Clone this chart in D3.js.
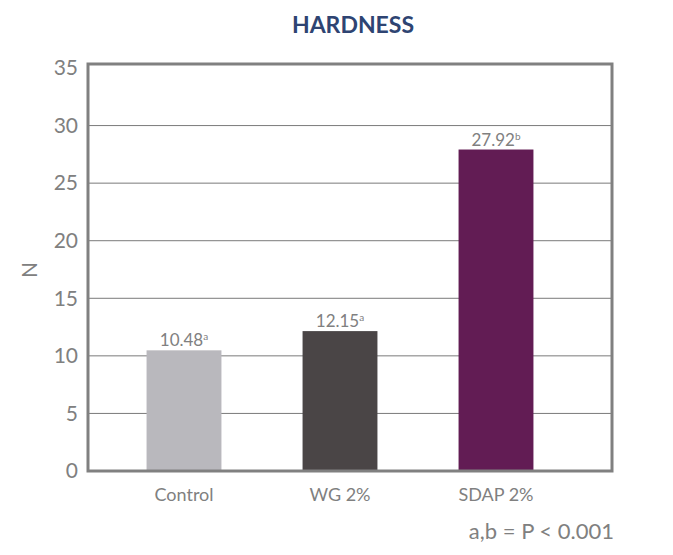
<!DOCTYPE html>
<html>
<head>
<meta charset="utf-8">
<script src="https://cdn.jsdelivr.net/npm/d3@7"></script>
<style>
  body { margin: 0; background: #fff; }
  text { font-family: Lato, 'Open Sans', sans-serif; }
</style>
</head>
<body>
<div id="chart"></div>
<script>
'use strict';

var categories = ['Control', 'WG 2%', 'SDAP 2%'];
var values = [10.48, 12.15, 27.92];
var letters = ['a', 'a', 'b'];
var colors = ['#b9b8bd', '#4a4546', '#621c54'];
var yTicks = [0, 5, 10, 15, 20, 25, 30, 35];

var w = 673, h = 555;
var plotLeft = 88, plotRight = 612, plotTop = 64, plotBottom = 471;
var grey = '#808080';

var svg = d3.select('#chart').append('svg')
  .attr('width', w)
  .attr('height', h);

var y = d3.scaleLinear().domain([0, 35]).range([plotBottom, plotTop + 4]);
var x = d3.scaleBand().domain(categories).range([106, 574])
  .paddingInner(0.52).paddingOuter(0.26);

// gridlines
svg.append('g').selectAll('line')
  .data(yTicks.filter(function (d) { return d > 0 && d < 35; }))
  .enter().append('line')
  .attr('x1', plotLeft).attr('x2', plotRight)
  .attr('y1', function (d) { return y(d); })
  .attr('y2', function (d) { return y(d); })
  .attr('stroke', '#7a7a7a')
  .attr('stroke-width', 1);

// bars
svg.append('g').selectAll('rect')
  .data(values)
  .enter().append('rect')
  .attr('x', function (d, i) { return x(categories[i]); })
  .attr('y', function (d) { return y(d); })
  .attr('width', x.bandwidth())
  .attr('height', function (d) { return y(0) - y(d); })
  .attr('fill', function (d, i) { return colors[i]; });

// value labels
var lbl = svg.append('g').selectAll('text')
  .data(values)
  .enter().append('text')
  .attr('x', function (d, i) { return x(categories[i]) + x.bandwidth() / 2; })
  .attr('y', function (d) { return y(d) - 4; })
  .attr('text-anchor', 'middle')
  .attr('font-size', 17)
  .attr('fill', grey);
lbl.append('tspan').text(function (d) { return d.toFixed(2); });
lbl.append('tspan')
  .attr('font-size', 10)
  .attr('dy', -6)
  .text(function (d, i) { return letters[i]; });

// frame
svg.append('rect')
  .attr('x', plotLeft).attr('y', plotTop)
  .attr('width', plotRight - plotLeft).attr('height', plotBottom - plotTop)
  .attr('fill', 'none')
  .attr('stroke', grey)
  .attr('stroke-width', 3);

// y axis
var yAxis = svg.append('g')
  .attr('transform', 'translate(' + plotLeft + ',0)')
  .call(d3.axisLeft(y).tickValues(yTicks).tickSize(0).tickPadding(10));
yAxis.select('.domain').remove();
yAxis.selectAll('text')
  .attr('font-size', 21)
  .attr('fill', grey)
  .style('font-family', 'Lato, sans-serif');

// x axis
var xAxis = svg.append('g')
  .attr('transform', 'translate(0,' + plotBottom + ')')
  .call(d3.axisBottom(x).tickSize(0).tickPadding(17));
xAxis.select('.domain').remove();
xAxis.selectAll('text')
  .attr('font-size', 18)
  .attr('fill', grey)
  .style('font-family', 'Lato, sans-serif');

// y label
svg.append('text')
  .attr('transform', 'translate(37,270) rotate(-90)')
  .attr('text-anchor', 'middle')
  .attr('font-size', 21)
  .attr('fill', grey)
  .text('N');

// title
svg.append('text')
  .attr('x', 353).attr('y', 33)
  .attr('text-anchor', 'middle')
  .attr('font-size', 23)
  .attr('font-weight', 'bold')
  .attr('fill', '#2e4472')
  .text('HARDNESS');

// footnote
svg.append('text')
  .attr('x', 614).attr('y', 539)
  .attr('text-anchor', 'end')
  .attr('font-size', 22)
  .attr('fill', grey)
  .text('a,b = P < 0.001');
</script>
</body>
</html>
